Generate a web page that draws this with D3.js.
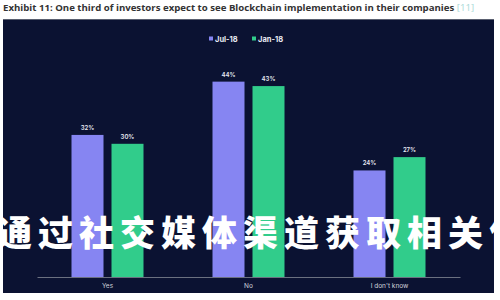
<!DOCTYPE html>
<html>
<head>
<meta charset="utf-8">
<script src="https://cdn.jsdelivr.net/npm/d3@7"></script>
<style>
  body { margin: 0; background: #fff; }
  svg { display: block; }
</style>
</head>
<body>
<div id="chart"></div>
<script>
// chart data
var categories = ["Yes", "No", "I don't know"];
var seriesNames = ["Jul-18", "Jan-18"];
var jul18 = [32, 44, 24];
var jan18 = [30, 43, 27];
var titleText = "Exhibit 11: One third of investors expect to see Blockchain implementation in their companies";
var titleRef = "[11]";
var overlayText = "通过社交媒体渠道获取相关信";

var svgWidth = 500;
var svgHeight = 300;
var colors = ["#8685f2", "#31cc8b"];

var svg = d3.select("#chart")
  .append("svg")
  .attr("width", svgWidth)
  .attr("height", svgHeight);

// title above the dark panel
var title = svg.append("text")
  .attr("x", 3)
  .attr("y", 11)
  .attr("font-family", "Open Sans, sans-serif")
  .attr("font-weight", "bold")
  .attr("font-size", "9.65px")
  .attr("fill", "#333");
title.append("tspan").text(titleText);
title.append("tspan").attr("fill", "#a8d8d6").attr("font-weight", "normal").text(" " + titleRef);

// dark panel
svg.append("rect")
  .attr("x", 3)
  .attr("y", 19)
  .attr("width", 491)
  .attr("height", 274)
  .attr("fill", "#0b1232");
svg.append("line")
  .attr("x1", 3).attr("x2", 494)
  .attr("y1", 19.5).attr("y2", 19.5)
  .attr("stroke", "#5a6070")
  .attr("stroke-width", 1);

var chartMargin = { top: 55, left: 37, right: 40, bottom: 23 };
var chartWidth = 460 - chartMargin.left;
var baseY = 277;

var chartGroup = svg.append("g");

// scales
var x0 = d3.scaleBand()
  .domain(categories)
  .range([chartMargin.left, chartMargin.left + chartWidth])
  .paddingInner(0)
  .paddingOuter(0);

var x1 = d3.scaleBand()
  .domain(seriesNames)
  .range([0, x0.bandwidth()])
  .paddingInner(0.2)
  .paddingOuter(0.8625);

var yScale = d3.scaleLinear()
  .domain([0, 50])
  .range([baseY, baseY - 222]);

var rows = categories.map(function(c, i) {
  return { category: c, values: [
    { series: seriesNames[0], value: jul18[i] },
    { series: seriesNames[1], value: jan18[i] }
  ] };
});

var groups = chartGroup.selectAll(".group")
  .data(rows)
  .enter()
  .append("g")
  .attr("class", "group")
  .attr("transform", d => `translate(${x0(d.category)}, 0)`);

groups.selectAll("rect")
  .data(d => d.values)
  .enter()
  .append("rect")
  .attr("x", d => x1(d.series))
  .attr("y", d => yScale(d.value))
  .attr("width", x1.bandwidth())
  .attr("height", d => yScale(0) - yScale(d.value))
  .attr("fill", (d, i) => colors[i]);

groups.selectAll(".val")
  .data(d => d.values)
  .enter()
  .append("text")
  .attr("class", "val")
  .attr("x", d => x1(d.series) + x1.bandwidth() / 2)
  .attr("y", d => yScale(d.value) - 5)
  .attr("text-anchor", "middle")
  .attr("font-family", "Inter, sans-serif")
  .attr("font-weight", "600")
  .attr("font-size", "6px")
  .attr("fill", "#e8eaf2")
  .text(d => d.value + "%");

// x axis
var bottomAxis = d3.axisBottom(x0).tickSize(0).tickPadding(6);
var axisG = chartGroup.append("g")
  .attr("transform", `translate(0, ${baseY})`)
  .call(bottomAxis);
axisG.select(".domain").attr("stroke", "#6b7080").attr("stroke-width", 1);
axisG.selectAll("text")
  .attr("font-family", "Inter, sans-serif")
  .attr("font-size", "6.5px")
  .attr("fill", "#d0d3dc");

// legend
var legend = svg.append("g")
  .attr("transform", "translate(209, 39)");
var legendX = [0, 43];
seriesNames.forEach(function(name, i) {
  legend.append("rect")
    .attr("x", legendX[i])
    .attr("y", -2.5)
    .attr("width", 4)
    .attr("height", 4)
    .attr("fill", colors[i]);
  legend.append("text")
    .attr("x", legendX[i] + 6)
    .attr("y", 2.8)
    .attr("font-family", "Inter, sans-serif")
    .attr("font-weight", "700")
    .attr("font-size", "7.5px")
    .attr("fill", "#e8eaf2")
    .text(name);
});

// overlay text across the chart
svg.append("text")
  .attr("x", -3)
  .attr("y", 246)
  .attr("font-family", "Noto Sans CJK SC")
  .attr("font-weight", "900")
  .attr("font-size", "35px")
  .attr("letter-spacing", "6px")
  .attr("fill", "#ffffff")
  .text(overlayText);
</script>
</body>
</html>
